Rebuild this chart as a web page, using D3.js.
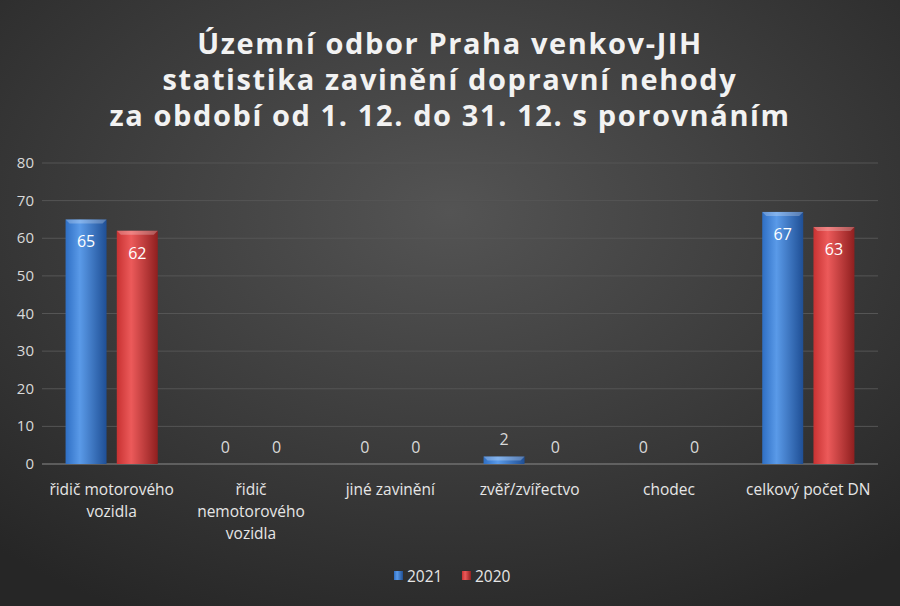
<!DOCTYPE html><html><head><meta charset="utf-8"><script src="https://cdn.jsdelivr.net/npm/d3@7"></script>
<style>body{margin:0}svg{display:block}</style></head><body><svg width="900" height="606"></svg><script>
const categories=[["řidič motorového","vozidla"],["řidič","nemotorového","vozidla"],["jiné zavinění"],["zvěř/zvířectvo"],["chodec"],["celkový počet DN"]];
const series=["2021","2020"];
const v2021=[65,0,0,2,0,67];
const v2020=[62,0,0,0,0,63];
const yTicks=[0,10,20,30,40,50,60,70,80];
const titleLines=["Územní odbor Praha venkov-JIH","statistika zavinění dopravní nehody","za období od 1. 12. do 31. 12. s porovnáním"];
const colors=[["#5a9ae8","#2f6fc4","#1f4f95"],["#ec5a5a","#c83232","#8f1f1f"]];
const svg=d3.select("svg"),F="'Open Sans','Noto Sans',sans-serif";
const defs=svg.append("defs");
const rg=defs.append("radialGradient").attr("id","bg").attr("cx","50%").attr("cy","35%").attr("r","75%");
rg.append("stop").attr("offset","0").attr("stop-color","#545454");rg.append("stop").attr("offset","1").attr("stop-color","#262626");
svg.append("rect").attr("width",900).attr("height",606).attr("fill","url(#bg)");
colors.forEach((c,i)=>{const g=defs.append("linearGradient").attr("id","g"+i);
g.append("stop").attr("offset","0").attr("stop-color",c[1]);g.append("stop").attr("offset","0.35").attr("stop-color",c[0]);g.append("stop").attr("offset","1").attr("stop-color",c[2]);});
titleLines.forEach((t,i)=>svg.append("text").attr("x",450).attr("y",54+i*36).attr("text-anchor","middle").attr("fill","#f2f2f2").attr("font-family",F).attr("font-weight","bold").attr("font-size",29).attr("letter-spacing","1.6").text(t));
const x=d3.scaleBand().domain(d3.range(6)).range([42,878]);
const y=d3.scaleLinear().domain([0,80]).range([464,163]);
yTicks.forEach(t=>{svg.append("line").attr("x1",42).attr("x2",878).attr("y1",y(t)).attr("y2",y(t)).attr("stroke",t?"#555":"#8a8a8a");
svg.append("text").attr("x",34).attr("y",y(t)+5).attr("text-anchor","end").attr("fill","#d9d9d9").attr("font-family",F).attr("font-size",15).text(t);});
const xs=d3.scaleBand().domain([0,1]).range([0,x.bandwidth()]).paddingInner(0.2).paddingOuter(0.46);
[v2021,v2020].forEach((vals,s)=>vals.forEach((v,i)=>{
const bx=x(i)+xs(s),bw=xs.bandwidth();
if(v>0){svg.append("rect").attr("x",bx).attr("y",y(v)).attr("width",bw).attr("height",y(0)-y(v)).attr("fill",`url(#g${s})`);
svg.append("path").attr("d",`M${bx},${y(v)}h${bw}l-4,4h${-bw+8}z`).attr("fill","#fff").attr("opacity",0.25);}
const inside=v>10;
svg.append("text").attr("x",bx+bw/2).attr("y",inside?y(v)+28:y(v)-11).attr("text-anchor","middle").attr("fill",inside?"#fff":"#d9d9d9").attr("font-family",F).attr("font-size",16).text(v);
}));
categories.forEach((c,i)=>c.forEach((l,j)=>svg.append("text").attr("x",x(i)+x.bandwidth()/2).attr("y",495+j*22).attr("text-anchor","middle").attr("fill","#e6e6e6").attr("font-family",F).attr("font-size",15.5).text(l)));
series.forEach((s,i)=>{const lx=394+i*68;
svg.append("rect").attr("x",lx).attr("y",571).attr("width",9).attr("height",9).attr("fill",`url(#g${i})`);
svg.append("text").attr("x",lx+13).attr("y",582).attr("fill","#e6e6e6").attr("font-family",F).attr("font-size",15.5).text(s);});
</script></body></html>
